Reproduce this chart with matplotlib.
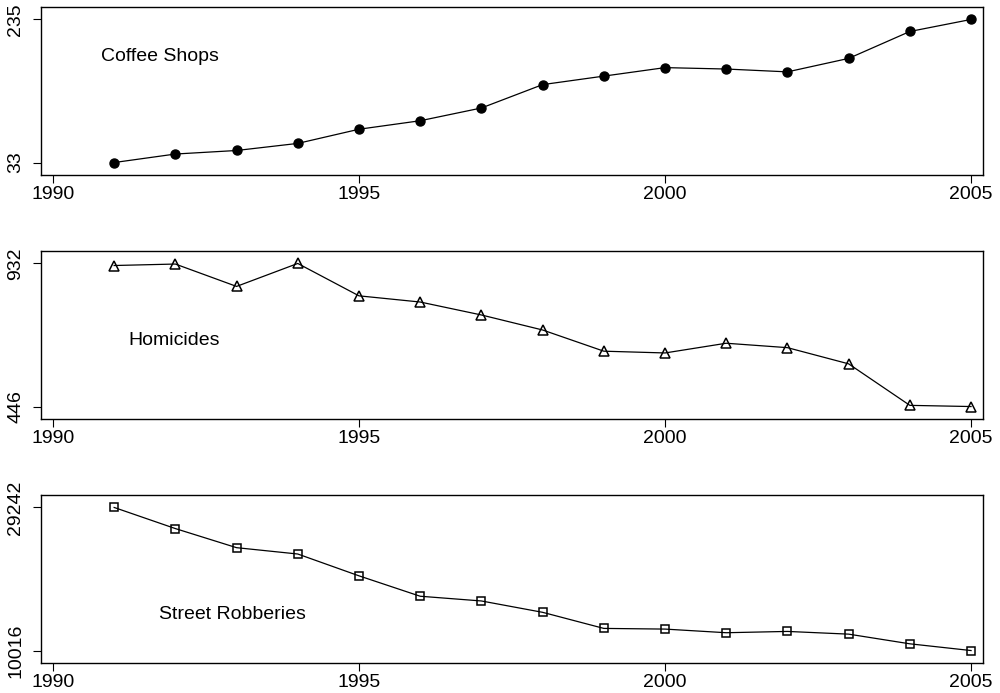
import numpy as np
import matplotlib
matplotlib.use("Agg")
import matplotlib.pyplot as plt

plt.rcParams['font.family'] = ['Liberation Sans', 'DejaVu Sans']

years = list(range(1991, 2006))
coffee = [33, 45, 50, 60, 80, 92, 110, 143, 155, 167, 165, 161, 180, 218, 235]
homicides = [925, 930, 854, 932, 822, 801, 757, 706, 634, 628, 661, 646, 591, 450, 446]
robberies = [29242, 26405, 23838, 22987, 20055, 17313, 16678, 15152, 12990, 12900,
             12410, 12585, 12220, 10920, 10016]

labels = ["Coffee Shops", "Homicides", "Street Robberies"]
label_pos = [(1990.79, 182.5), (1991.24, 672), (1991.74, 14881)]
series = [coffee, homicides, robberies]
markers = [dict(marker='o', markersize=6.5, markerfacecolor='black', markeredgecolor='black'),
           dict(marker='^', markersize=6.5, markerfacecolor='none', markeredgecolor='black', markeredgewidth=1.1),
           dict(marker='s', markersize=5.5, markerfacecolor='none', markeredgecolor='black', markeredgewidth=1.1)]

fig = plt.figure(figsize=(10, 6.93), dpi=100)
bottoms = [0.7475, 0.3954, 0.0433]
for i in range(3):
    ax = fig.add_axes([0.0407, bottoms[i], 0.9426, 0.2424])
    vals = series[i]
    ax.plot(years, vals, color='black', linewidth=0.9, **markers[i])
    lo, hi = min(vals), max(vals)
    m = (hi - lo) * 0.087
    ax.set_ylim(lo - m, hi + m)
    ax.set_xlim(1989.8, 2005.2)
    ax.set_xticks([1990, 1995, 2000, 2005])
    ax.set_yticks([lo, hi])
    ax.set_yticklabels([str(lo), str(hi)], rotation=90, va='center')
    ax.tick_params(axis='both', labelsize=14, length=5.8, width=0.8, direction='out')
    ax.tick_params(axis='x', pad=2)
    ax.tick_params(axis='y', pad=6)
    for s in ax.spines.values():
        s.set_linewidth(1.0)
    ax.text(label_pos[i][0], label_pos[i][1], labels[i], fontsize=14, ha='left', va='center')

fig.savefig("out.png", dpi=100)
